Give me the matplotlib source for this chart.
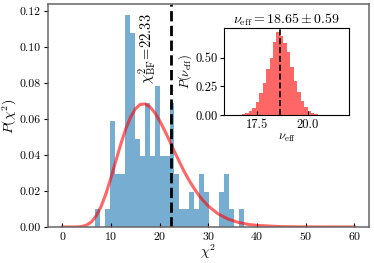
import numpy as np
import matplotlib
matplotlib.use("Agg")
import matplotlib.pyplot as plt

plt.rcParams['font.family'] = 'serif'
plt.rcParams['font.serif'] = ['cmr10']
plt.rcParams['mathtext.fontset'] = 'cm'
plt.rcParams['axes.formatter.use_mathtext'] = True
plt.rcParams['axes.unicode_minus'] = False
plt.rcParams['xtick.direction'] = 'in'
plt.rcParams['ytick.direction'] = 'out'

# histogramme des chi2 (comptes par bin)
chi2_left = 6.73
chi2_width = 1.02
chi2_counts = [1, 0, 1, 6, 3, 3, 12, 11, 5, 4, 7, 4, 8, 4, 4, 7, 3, 1, 1, 2,
               1, 3, 2, 0, 0, 2, 3, 1, 0, 1]
chi2_edges = chi2_left + chi2_width * np.arange(len(chi2_counts) + 1)

# courbe rouge
curve_x = [0, 1, 2, 3, 4, 5, 6, 7, 8, 9, 10, 11, 12, 13, 14, 15, 16, 17, 18,
           19, 20, 21, 22, 23, 24, 25, 26, 27, 28, 29, 30, 32, 34, 36, 38, 40,
           45, 50, 55, 60]
curve_y = [0.0, 0.0, 0.000002, 0.00004, 0.00027, 0.00104, 0.00287, 0.00628,
           0.01157, 0.0187, 0.0273, 0.0366, 0.0458, 0.0541, 0.0608, 0.0655,
           0.0680, 0.0683, 0.0667, 0.0634, 0.0590, 0.0537, 0.0480, 0.0421,
           0.0365, 0.0310, 0.0261, 0.0217, 0.0178, 0.0145, 0.0116, 0.0073,
           0.00446, 0.00264, 0.00152, 0.00086, 0.00019, 0.00004, 0.00001, 0.0]
chi2_bf = 22.33

# encart nu_eff
nu_left = 16.6
nu_width = 0.17
nu_heights = [0.003, 0.007, 0.016, 0.035, 0.065, 0.115, 0.19, 0.28, 0.40,
              0.50, 0.64, 0.72, 0.69, 0.63, 0.55, 0.42, 0.30, 0.20, 0.12,
              0.07, 0.035, 0.017, 0.007, 0.003, 0.001]
nu_edges = nu_left + nu_width * np.arange(len(nu_heights) + 1)
nu_eff = 18.65

fig = plt.figure(figsize=(3.74, 2.63), dpi=100)
ax = fig.add_axes([0.1275, 0.137, 0.859, 0.846])
ax.hist(chi2_edges[:-1], bins=chi2_edges, weights=chi2_counts, density=True,
        color='C0', alpha=0.6)
ax.plot(curve_x, curve_y, color='red', alpha=0.6, lw=2.2)
ax.axvline(chi2_bf, color='k', ls='--', lw=2)
ax.text(17.4, 0.1185, r'$\chi^2_{\rm BF}\!=\!22.33$', rotation=90,
        ha='center', va='top', fontsize=10.5)
ax.set_xlim(-3, 63)
ax.set_ylim(0, 0.1235)
ax.set_xticks([0, 10, 20, 30, 40, 50, 60])
ax.set_yticks([0, 0.02, 0.04, 0.06, 0.08, 0.10, 0.12])
ax.set_yticklabels(['0.00', '0.02', '0.04', '0.06', '0.08', '0.10', '0.12'])
ax.tick_params(labelsize=8.5, length=3)
ax.tick_params(axis='x', pad=2.5)
ax.tick_params(axis='y', pad=2)
ax.set_xlabel(r'$\chi^2$', fontsize=10, labelpad=0)
ax.set_ylabel(r'$P(\chi^2)$', fontsize=10, labelpad=0.5)
for s in ax.spines.values():
    s.set_color('0.4')
    s.set_linewidth(1.1)

axin = fig.add_axes([0.5997, 0.5627, 0.334, 0.3297])
axin.hist(nu_edges[:-1], bins=nu_edges, weights=nu_heights, color='red', alpha=0.6)
axin.axvline(nu_eff, color='k', ls='--', lw=1.2)
axin.set_xlim(15.9, 22.05)
axin.set_ylim(0, 0.755)
axin.set_xticks([17.5, 20.0])
axin.set_xticklabels(['17.5', '20.0'])
axin.set_yticks([0, 0.25, 0.5])
axin.set_yticklabels(['0.00', '0.25', '0.50'])
axin.tick_params(labelsize=9, length=3)
axin.tick_params(axis='x', pad=2.5)
axin.tick_params(axis='y', pad=2)
axin.set_title(r'$\nu_{\rm eff} = 18.65 \pm 0.59$', fontsize=10, pad=3)
axin.set_xlabel(r'$\nu_{\rm eff}$', fontsize=9, labelpad=1)
axin.set_ylabel(r'$P(\nu_{\rm eff})$', fontsize=9, labelpad=1)

fig.savefig('out.png', dpi=100)
